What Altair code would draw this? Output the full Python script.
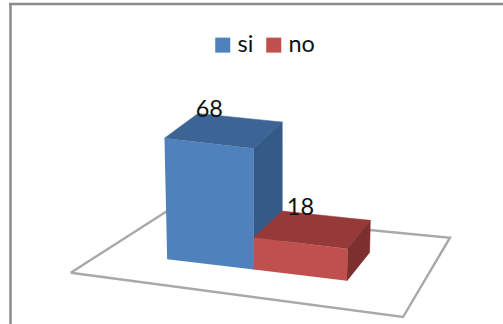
import altair as alt
import numpy as np
import pandas as pd

# Series shown on the chart
categories = ["si", "no"]
values = [68, 18]
front_colors = ["#4f81bd", "#c0504d"]
top_colors = ["#3c6494", "#953a38"]
side_colors = ["#355a88", "#7d2f2d"]

W, H = 503, 324
FONT = "Lato"

# Corners of the floor on the page: front-left, front-right, back-right, back-left
floor_corners = [(70.7, 272.7), (403, 317), (450, 237.7), (168, 210.6)]
# Column edges along the floor's width, and the depth span of the columns
column_edges = [0.226, 0.5125, 0.796]
depth_span = (0.30, 0.68)
UNIT_HEIGHT = 1.78   # page pixels per data unit
LEAN = 0.14          # sideways drift of tall edges, away from the picture centre


def make_homography(corners):
    square = [(0, 0), (1, 0), (1, 1), (0, 1)]
    rows, rhs = [], []
    for (u, w), (x, y) in zip(square, corners):
        rows.append([u, w, 1, 0, 0, 0, -u * x, -w * x])
        rows.append([0, 0, 0, u, w, 1, -u * y, -w * y])
        rhs += [x, y]
    return np.append(np.linalg.solve(np.array(rows), np.array(rhs)), 1.0).reshape(3, 3)


HOMOGRAPHY = make_homography(floor_corners)


def project(u, w, v=0.0):
    """Floor position (u, w) and height v to page coordinates."""
    px, py, pz = HOMOGRAPHY @ np.array([u, w, 1.0])
    x = px / pz + LEAN * v * (u - column_edges[1])
    y = py / pz - UNIT_HEIGHT * v
    return x, y


def polygon_rows(points, color):
    """Convex polygon as an area: one upper and lower y for every x of a vertex."""
    pts = list(points)
    xs = sorted({round(p[0], 3) for p in pts})
    rows = []
    for x in xs:
        crossings = []
        for (x0, y0), (x1, y1) in zip(pts, pts[1:] + pts[:1]):
            lo, hi = min(x0, x1), max(x0, x1)
            if lo - 0.002 <= x <= hi + 0.002:
                if abs(x1 - x0) < 0.002:
                    crossings += [y0, y1]
                else:
                    crossings.append(y0 + (y1 - y0) * (x - x0) / (x1 - x0))
        rows.append({"px": x, "py": min(crossings), "py2": max(crossings), "color": color})
    return rows


px_x = alt.X("px:Q", scale=alt.Scale(domain=[0, W], range=[0, W]), axis=None)
px_y = alt.Y("py:Q", scale=alt.Scale(domain=[0, H], range=[0, H]), axis=None)

# Floor outline
floor_square = [(0, 0), (1, 0), (1, 1), (0, 1)]
floor_pts = [project(u, w) for u, w in floor_square]
floor_line = pd.DataFrame(
    [{"px": p[0], "py": p[1], "step": i} for i, p in enumerate(floor_pts + floor_pts[:1])]
)

layers = [
    alt.Chart(floor_line).mark_line(color="#a9a9a9", strokeWidth=2.4, strokeJoin="miter").encode(
        x=px_x, y=px_y, order="step:Q"
    )
]

w0, w1 = depth_span
for i, (name, value) in enumerate(zip(categories, values)):
    u0, u1 = column_edges[i], column_edges[i + 1]
    top = polygon_rows(
        [project(u0, w0, value), project(u0, w1, value), project(u1, w1, value), project(u1, w0, value)],
        top_colors[i],
    )
    side = polygon_rows(
        [project(u1, w0, value), project(u1, w1, value), project(u1, w1, 0), project(u1, w0, 0)],
        side_colors[i],
    )
    front = polygon_rows(
        [project(u0, w0, value), project(u1, w0, value), project(u1, w0, 0), project(u0, w0, 0)],
        front_colors[i],
    )
    for rows, color in ((top, top_colors[i]), (side, side_colors[i])):
        layers.append(
            alt.Chart(pd.DataFrame(rows)).mark_area(color=color, stroke=color, strokeWidth=0.5).encode(
                x=px_x, y=px_y, y2="py2:Q",
            )
        )
    layers.append(
        alt.Chart(pd.DataFrame(front).assign(series=name)).mark_area().encode(
            x=px_x, y=px_y, y2="py2:Q",
            color=alt.Color(
                "series:N",
                scale=alt.Scale(domain=categories, range=front_colors),
                legend=alt.Legend(
                    title=None, orient="none", legendX=211, legendY=33, direction="horizontal",
                    symbolType="square", symbolSize=225, symbolStrokeWidth=0,
                    labelFont=FONT, labelFontSize=23.5, labelColor="#111111",
                    labelOffset=3, columnPadding=8, symbolOffset=0,
                ),
            ),
        )
    )

# Value labels sitting on the back edge of each column
label_rows = []
for i, (name, value) in enumerate(zip(categories, values)):
    x, y = project((column_edges[i] + column_edges[i + 1]) / 2, depth_span[1], value)
    label_rows.append({"px": x - 30 + 5 * i, "py": y - 1, "label": str(value)})
layers.append(
    alt.Chart(pd.DataFrame(label_rows)).mark_text(
        font=FONT, fontSize=23.5, color="#111111", baseline="alphabetic", align="center"
    ).encode(x=px_x, y=px_y, text="label:N")
)

# Chart frame: left and top edges
frame = alt.Chart(pd.DataFrame({"a": [0]})).mark_rule(color="#8c8c8c", strokeWidth=2.5)
layers.append(frame.encode(x=alt.value(10.5), y=alt.value(4), y2=alt.value(H)))
layers.append(frame.encode(x=alt.value(9), x2=alt.value(W), y=alt.value(4)))

chart = (
    alt.layer(*layers)
    .properties(width=W, height=H, padding=0, autosize=alt.AutoSizeParams(type="none"),
                background="#ffffff")
    .configure_view(stroke=None)
)

chart.save("out.html", embed_options={"renderer": "svg", "actions": False})
